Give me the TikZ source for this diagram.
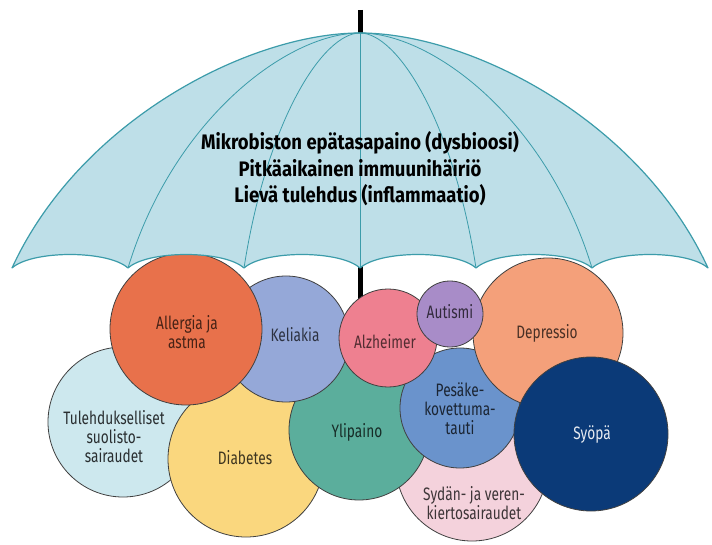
\documentclass[tikz,border=0pt]{standalone}
\usepackage{fontspec}
\setmainfont{Fira Sans}[FakeStretch=0.76]
\newfontfamily\headfont{Fira Sans}[FakeStretch=0.88]
\usepackage{tikz}
\definecolor{CCan}{HTML}{BEDFE8}
\definecolor{CRib}{HTML}{3C9CAA}
\definecolor{CTul}{HTML}{CDE8EE}
\definecolor{CSyd}{HTML}{F4D2DC}
\definecolor{CDia}{HTML}{FAD77E}
\definecolor{CYli}{HTML}{5BAE9C}
\definecolor{CKel}{HTML}{95A8D8}
\definecolor{CAll}{HTML}{E8714B}
\definecolor{CPes}{HTML}{6A93CC}
\definecolor{CAlz}{HTML}{EE8090}
\definecolor{CDep}{HTML}{F4A07A}
\definecolor{CAut}{HTML}{A88CC8}
\definecolor{CSyo}{HTML}{0B3A78}

\begin{document}
\begin{tikzpicture}[x=1pt,y=-1pt]
\tikzstyle{circ}=[draw=black!75, line width=0.8pt, shape=circle, inner sep=0pt]
\tikzstyle{lbl}=[align=center, inner sep=0pt, font=\fontsize{18}{19}\selectfont]
\tikzstyle{rib}=[draw=CRib, line width=0.8pt]
\useasboundingbox[fill=white] (0,0) rectangle (712,545);
% handle
\draw[line width=5pt] (360,10) -- (360,300);
% circles, back to front
\node[circ, fill=CTul, minimum size=150pt](tul) at (123,422){};
\node[circ, fill=CSyd, minimum size=152pt](syd) at (472,465){};
\node[circ, fill=CDia, minimum size=156pt](dia) at (246,459){};
\node[circ, fill=CYli, minimum size=140pt](yli) at (359,430){};
\node[circ, fill=CKel, minimum size=126pt](kel) at (286,339){};
\node[circ, fill=CAll, minimum size=152pt](all) at (186,329){};
\node[circ, fill=CPes, minimum size=120pt](pes) at (460,408){};
\node[circ, fill=CAlz, minimum size=98pt](alz) at (388,338){};
\node[circ, fill=CDep, minimum size=150pt](dep) at (548,333){};
\node[circ, fill=CAut, minimum size=66pt](aut) at (450,314){};
\node[circ, fill=CSyo, minimum size=154pt](syo) at (591,434){};
%
% canopy
\path[fill=CCan, draw=CRib, line width=1.2pt, line join=round]
  (12,268) .. controls (80,120) and (250,33) .. (360,33)
  .. controls (470,33) and (640,120) .. (708,268)
  .. controls (688,250) and (612,250) .. (592,268)
  .. controls (572,250) and (496,250) .. (476,268)
  .. controls (456,250) and (380,250) .. (360,268)
  .. controls (340,250) and (264,250) .. (244,268)
  .. controls (224,250) and (148,250) .. (128,268)
  .. controls (108,250) and (32,250) .. (12,268) -- cycle;
\draw[rib] (360,33) .. controls (287,33) and (173,120) .. (128,268);
\draw[rib] (360,33) .. controls (323,33) and (267,120) .. (244,268);
\draw[rib] (360,33) -- (360,268);
\draw[rib] (360,33) .. controls (397,33) and (453,120) .. (476,268);
\draw[rib] (360,33) .. controls (433,33) and (547,120) .. (592,268);
%
\node[align=center, font=\headfont\fontsize{21}{26.5}\selectfont\bfseries](cause) at (360,169){Mikrobiston epätasapaino (dysbioosi)\\Pitkäaikainen immuunihäiriö\\Lievä tulehdus (inflammaatio)};
%
% labels
\node[lbl, text=CAll!30!black](alltxt) at (187,332){Allergia ja\\astma};
\node[lbl, text=CKel!30!black](keltxt) at (295,335){Keliakia};
\node[lbl, text=CAlz!35!black](alztxt) at (385,342){Alzheimer};
\node[lbl, text=CAut!30!black](auttxt) at (450,312){Autismi};
\node[lbl, text=CDep!30!black](deptxt) at (547,333){Depressio};
\node[lbl, text=CTul!20!black](tultxt) at (114,437){Tulehdukselliset\\suolisto-\\sairaudet};
\node[lbl, text=CDia!25!black](diatxt) at (245,458){Diabetes};
\node[lbl, text=CYli!25!black](ylitxt) at (357,432){Ylipaino};
\node[lbl, text=CPes!25!black](pestxt) at (460,409){Pesäke-\\kovettuma-\\tauti};
\node[lbl, text=CSyd!25!black, font=\fontsize{18}{17}\selectfont](sydtxt) at (474,503){Sydän- ja veren-\\kiertosairaudet};
\node[lbl, text=CSyo!10!white](syotxt) at (592,435){Syöpä};
%
\end{tikzpicture}
\end{document}
